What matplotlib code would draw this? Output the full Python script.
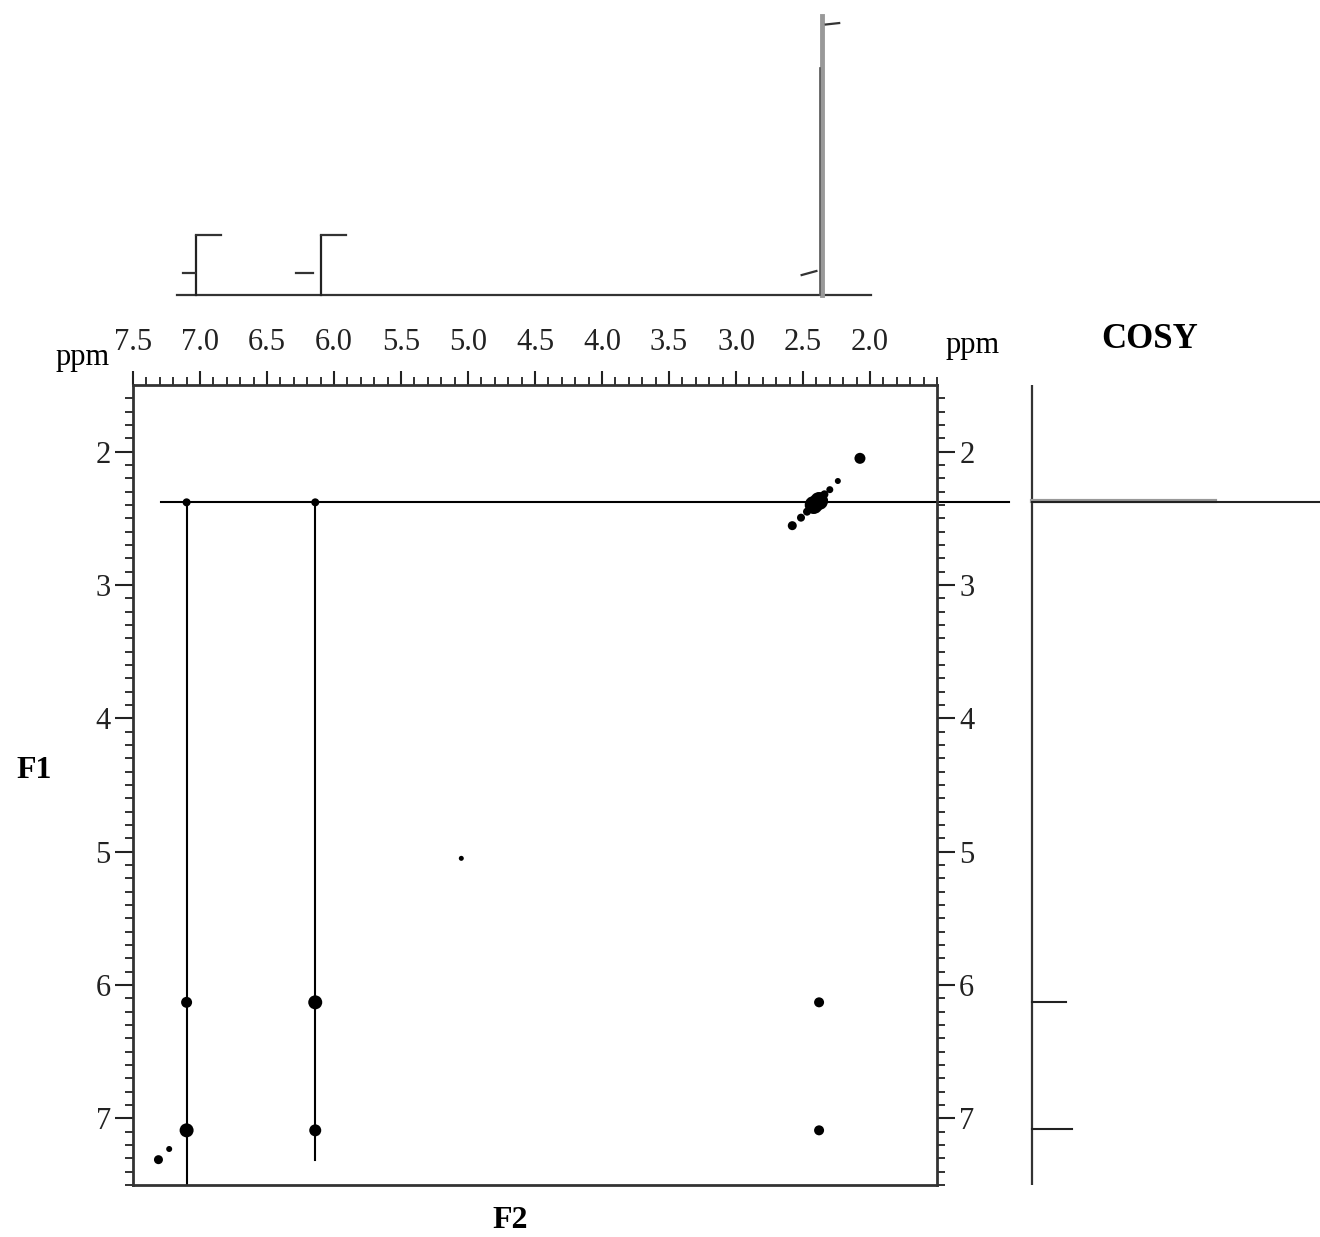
import numpy as np
import matplotlib
matplotlib.use("Agg")
import matplotlib.pyplot as plt

plt.rcParams["font.family"] = ["Liberation Serif", "DejaVu Serif"]

# cross peaks (F2 ppm, F1 ppm, marker diameter in px)
cross_f2 = [7.10, 6.14, 7.10, 6.14, 7.10, 6.14, 2.38, 2.38, 5.05]
cross_f1 = [2.38, 2.38, 6.13, 6.13, 7.09, 7.09, 6.13, 7.09, 5.05]
cross_size = [8, 8, 11, 14, 14, 12, 10, 10, 5]

# diagonal peaks
diag_f2 = [7.31, 7.23, 2.58, 2.515, 2.47, 2.42, 2.38, 2.34, 2.30, 2.24, 2.075]
diag_f1 = [7.31, 7.23, 2.555, 2.495, 2.45, 2.40, 2.37, 2.32, 2.285, 2.22, 2.05]
diag_size = [9, 6, 9, 8, 8, 18, 18, 8, 7, 6, 11]

# connecting lines of the COSY map
hline_f1 = 2.38
hline_f2 = (7.29, 0.96)
vline_f2 = [7.10, 6.14]
vline_end = [7.5, 7.31]

# 1D spectrum on top (F2)
top_peaks = [7.03, 6.10, 2.36]
top_heights = [0.22, 0.22, 0.98]
top_base = (7.17, 1.99)
integ_low = [(7.13, 7.04, 0.093, 0.093), (6.28, 6.16, 0.093, 0.093), (2.51, 2.40, 0.086, 0.10)]
integ_high = [(7.03, 6.84, 0.224, 0.224), (6.10, 5.91, 0.224, 0.224), (2.33, 2.23, 0.95, 0.955)]

# 1D spectrum on the right (F1)
side_peaks = [2.38, 6.13, 7.08]
side_heights = [1.0, 0.153, 0.173]
side_base = 0.04

W, H = 1320, 1237
fig = plt.figure(figsize=(W / 100, H / 100), dpi=100)

ax = fig.add_axes([133 / W, 1 - 1185 / H, 804 / W, 800 / H])
ax.set_xlim(7.5, 1.5)
ax.set_ylim(7.5, 1.5)

ax.plot(hline_f2, [hline_f1, hline_f1], color="black", lw=1.5, clip_on=False)
for x, y2 in zip(vline_f2, vline_end):
    ax.plot([x, x], [hline_f1, y2], color="black", lw=1.5)

s_cross = [(d * 0.72) ** 2 for d in cross_size]
s_diag = [(d * 0.72) ** 2 for d in diag_size]
ax.scatter(cross_f2, cross_f1, s=s_cross, color="black", zorder=3, lw=0)
ax.scatter(diag_f2, diag_f1, s=s_diag, color="black", zorder=3, lw=0)

ax.xaxis.tick_top()
ax.set_xticks(np.arange(2.0, 7.51, 0.5))
ax.set_xticklabels(["%.1f" % v for v in np.arange(2.0, 7.51, 0.5)])
ax.set_xticks(np.arange(1.5, 7.51, 0.1), minor=True)
ax.set_yticks(range(2, 8))
ax.set_yticks(np.arange(1.6, 7.51, 0.1), minor=True)
ax.tick_params(axis="x", which="both", direction="out", top=True, bottom=False,
               labelsize=22, pad=10, colors="#222222")
ax.tick_params(axis="y", which="both", direction="out", left=True, right=True,
               labelleft=True, labelright=True, labelsize=22, colors="#222222")
ax.tick_params(axis="y", which="major", length=13, width=1.5, pad=3)
ax.tick_params(axis="x", which="major", length=10, width=1.5)
ax.tick_params(which="minor", length=6, width=1.3)
for sp in ax.spines.values():
    sp.set_linewidth(2)
    sp.set_color("#333333")

fig.text(110 / W, 1 - 357 / H, "ppm", fontsize=22, va="center", ha="right")
fig.text(946 / W, 1 - 345 / H, "ppm", fontsize=22, va="center", ha="left")
fig.text(1150 / W, 1 - 340 / H, "COSY", fontsize=25, fontweight="bold", va="center", ha="center")
fig.text(34 / W, 1 - 770 / H, "F1", fontsize=23, fontweight="bold", va="center", ha="center")
fig.text(510 / W, 1 - 1220 / H, "F2", fontsize=23, fontweight="bold", va="center", ha="center")

# top 1D spectrum
axt = fig.add_axes([133 / W, 1 - 300 / H, 804 / W, 290 / H])
axt.set_xlim(7.5, 1.5)
axt.set_ylim(0, 1)
axt.axis("off")
axt.plot(top_base, [0.017, 0.017], color="#333333", lw=1.6)
for x, h in zip(top_peaks[:2], top_heights[:2]):
    axt.plot([x, x], [0.017, h], color="#222222", lw=1.6)
axt.plot([top_peaks[2], top_peaks[2]], [0.017, top_heights[2]], color="#999999", lw=3.5)
axt.plot([top_peaks[2] + 0.01, top_peaks[2] + 0.01], [0.017, 0.8], color="#555555", lw=1.2)
for x1, x2, y1, y2 in integ_low + integ_high:
    axt.plot([x1, x2], [y1, y2], color="#333333", lw=1.6)

# right 1D spectrum
axr = fig.add_axes([1020 / W, 1 - 1185 / H, 300 / W, 800 / H])
axr.set_ylim(7.5, 1.5)
axr.set_xlim(0, 1)
axr.axis("off")
axr.plot([side_base, side_base], [1.5, 7.5], color="#333333", lw=1.6)
axr.plot([side_base, 0.65], [side_peaks[0] - 0.01, side_peaks[0] - 0.01], color="#999999", lw=3)
for y, h in zip(side_peaks, side_heights):
    axr.plot([side_base, h], [y, y], color="#222222", lw=1.5)

fig.savefig("out.png", dpi=100)
